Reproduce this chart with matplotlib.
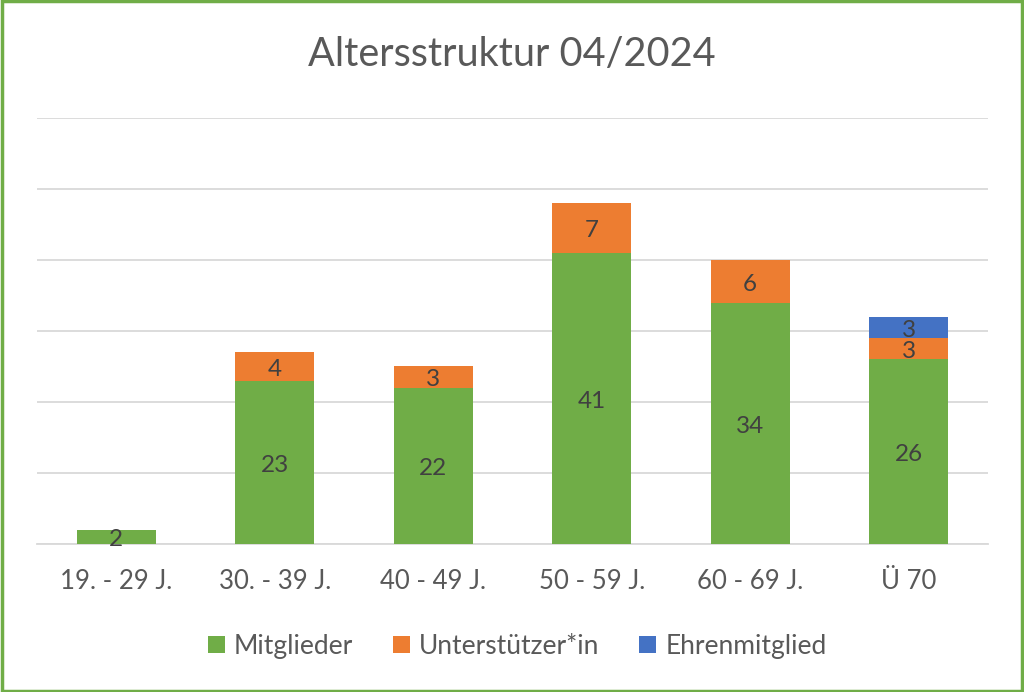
import matplotlib.pyplot as plt
import numpy as np
from matplotlib.patches import Rectangle

plt.rcParams['font.family'] = ['Lato', 'DejaVu Sans']

# Daten
kategorien = ["19. - 29 J.", "30. - 39 J.", "40 - 49 J.", "50 - 59 J.", "60 - 69 J.", "Ü 70"]
mitglieder = [2, 23, 22, 41, 34, 26]
unterstuetzer = [0, 4, 3, 7, 6, 3]
ehrenmitglied = [0, 0, 0, 0, 0, 3]

serien = [
    ("Mitglieder", mitglieder, "#70AD47"),
    ("Unterstützer*in", unterstuetzer, "#ED7D31"),
    ("Ehrenmitglied", ehrenmitglied, "#4472C4"),
]

fig = plt.figure(figsize=(10.24, 6.92), dpi=100)
ax = fig.add_axes([0.0361, 0.2139, 0.9287, 0.6156])

x = np.arange(len(kategorien))
unten = np.zeros(len(kategorien))
for name, werte, farbe in serien:
    werte = np.array(werte, dtype=float)
    ax.bar(x, werte, width=0.5, bottom=unten, color=farbe, label=name, zorder=3)
    for xi, b, v in zip(x, unten, werte):
        if v > 0:
            ax.annotate(str(int(v)), (xi, b + v / 2), xytext=(0, -2), textcoords='offset points',
                        ha='center', va='center', fontsize=17.5, color='#404040', zorder=4)
    unten += werte

ax.set_xlim(-0.5, len(kategorien) - 0.5)
ax.set_ylim(0, 60)
ax.set_yticks(np.arange(0, 61, 10))
ax.yaxis.grid(True, color='#D9D9D9', lw=1.3, zorder=0)
ax.tick_params(axis='y', length=0, labelleft=False)
ax.tick_params(axis='x', length=0, pad=18, labelsize=18.5, labelcolor='#595959')
ax.set_xticks(x)
ax.set_xticklabels(kategorien)
for s in ['top', 'right', 'left']:
    ax.spines[s].set_visible(False)
ax.spines['bottom'].set_color('#D9D9D9')
ax.spines['bottom'].set_linewidth(1.3)

fig.text(0.5, 0.921, "Altersstruktur 04/2024", ha='center', va='center',
         fontsize=28.5, color='#595959')

leg = fig.legend(loc='center', bbox_to_anchor=(0.505, 0.066), ncol=3, frameon=False,
                 fontsize=19, labelcolor='#595959', handlelength=0.65, handleheight=0.65,
                 handletextpad=0.35, columnspacing=1.5)

# gruener Rahmen
fig.patches.append(Rectangle((0.0015, 0.002), 0.997, 0.996, transform=fig.transFigure,
                             fill=False, ec='#70AD47', lw=2.5))

fig.savefig("out.png", dpi=100)
